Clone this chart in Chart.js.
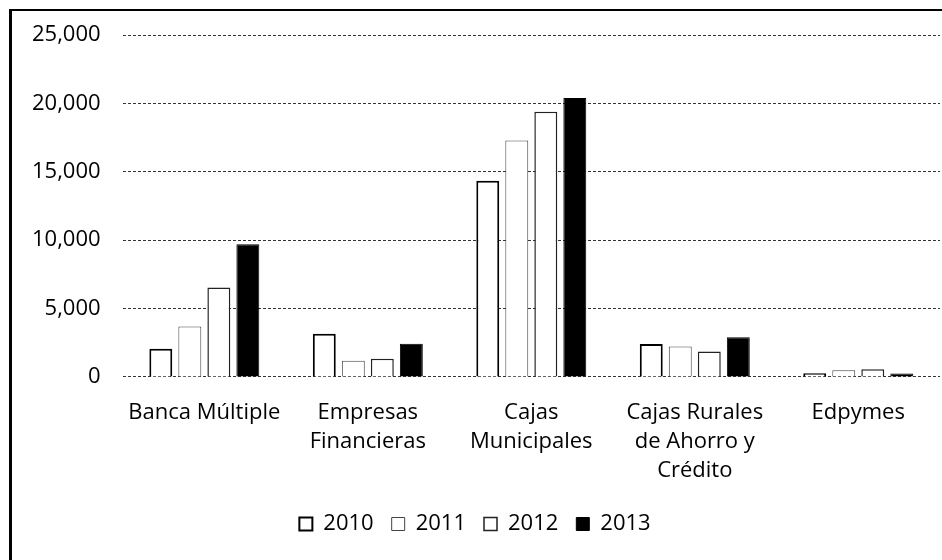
<!DOCTYPE html>
<html>
<head>
<meta charset="utf-8">
<script src="https://cdn.jsdelivr.net/npm/chart.js@4.4.0/dist/chart.umd.min.js"></script>
<style>
  body { margin: 0; background: #fff; }
  #wrap { position: relative; width: 942px; height: 560px; }
  #frame {
    position: absolute; left: 9px; top: 9px; right: -4px; bottom: -4px;
    border-left: 3px solid #000; border-top: 2px solid #000;
    pointer-events: none;
  }
  canvas { position: absolute; left: 0; top: 0; }
</style>
</head>
<body>
<div id="wrap">
  <canvas id="chart" width="942" height="560"></canvas>
  <div id="frame"></div>
</div>
<script>
// Data
const categories = [
    ['Banca Múltiple'],
    ['Empresas', 'Financieras'],
    ['Cajas', 'Municipales'],
    ['Cajas Rurales', 'de Ahorro y', 'Crédito'],
    ['Edpymes']
];
const years = ['2010', '2011', '2012', '2013'];
const values2010 = [2050, 3150, 14350, 2400, 270];
const values2011 = [3680, 1180, 17300, 2230, 480];
const values2012 = [6540, 1320, 19400, 1860, 560];
const values2013 = [9700, 2430, 20400, 2900, 240];
const yTicks = [0, 5000, 10000, 15000, 20000, 25000];

const fontFamily = '"Open Sans", Lato, sans-serif';

// nudge the legend a bit closer to the axis labels
const legendShift = {
    id: 'legendShift',
    afterLayout(chart) {
        chart.legend.top -= 3;
        chart.legend.bottom -= 3;
    }
};

const ctx = document.getElementById('chart').getContext('2d');
new Chart(ctx, {
    type: 'bar',
    data: {
        labels: categories,
        datasets: [
            { label: years[0], data: values2010, backgroundColor: '#fff', borderColor: '#000', borderWidth: 2 },
            { label: years[1], data: values2011, backgroundColor: '#fff', borderColor: '#444', borderWidth: 1 },
            { label: years[2], data: values2012, backgroundColor: '#fff', borderColor: '#222', borderWidth: 1.5 },
            { label: years[3], data: values2013, backgroundColor: '#000', borderColor: '#000', borderWidth: 1 }
        ]
    },
    plugins: [legendShift],
    options: {
        responsive: false,
        animation: false,
        layout: { padding: { left: 10, right: 2, top: 29, bottom: 12 } },
        datasets: {
            bar: { categoryPercentage: 0.71, barPercentage: 0.79 }
        },
        plugins: {
            legend: {
                position: 'bottom',
                labels: {
                    boxWidth: 13,
                    boxHeight: 13,
                    padding: 18,
                    color: '#000',
                    font: { family: fontFamily, size: 22 }
                }
            },
            tooltip: { enabled: false }
        },
        scales: {
            x: {
                grid: { display: false },
                border: { display: false },
                ticks: {
                    color: '#000',
                    padding: 13,
                    maxRotation: 0,
                    autoSkip: false,
                    font: { family: fontFamily, size: 22, lineHeight: 1.32 }
                }
            },
            y: {
                min: 0,
                max: 25000,
                afterBuildTicks: axis => { axis.ticks = yTicks.map(v => ({ value: v })); },
                grid: {
                    color: '#333',
                    lineWidth: 1,
                    drawTicks: false
                },
                border: { display: false, dash: [3, 2] },
                ticks: {
                    color: '#000',
                    padding: 22,
                    font: { family: fontFamily, size: 22 },
                    callback: v => v.toLocaleString('en-US')
                }
            }
        }
    }
});
</script>
</body>
</html>
